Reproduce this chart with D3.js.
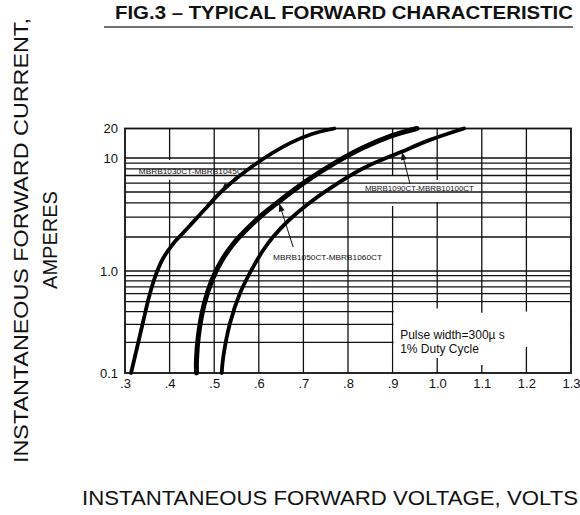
<!DOCTYPE html>
<html>
<head>
<meta charset="utf-8">
<script src="https://cdn.jsdelivr.net/npm/d3@7"></script>
<style>
  html, body { margin: 0; padding: 0; background: #fff; }
  svg { display: block; }
  text { font-family: "Liberation Sans", Arial, sans-serif; fill: #111; }
</style>
</head>
<body>
<svg id="chart" width="580" height="515"></svg>
<script>
// ---- data ----
const xTicks = [0.3, 0.4, 0.5, 0.6, 0.7, 0.8, 0.9, 1.0, 1.1, 1.2, 1.3];
const xTickLabels = [".3", ".4", ".5", ".6", ".7", ".8", ".9", "1.0", "1.1", "1.2", "1.3"];
const yTicks = [0.1, 1, 10, 20];
const yTickLabels = ["0.1", "1.0", "10", "20"];
const yMinor = [0.2, 0.3, 0.4, 0.5, 0.6, 0.7, 0.8, 0.9, 2, 3, 4, 5, 6, 7, 8, 9];

const voltsA = [0.3135, 0.3258, 0.3404, 0.3538, 0.365, 0.3751, 0.3852, 0.3975, 0.4121, 0.430, 0.4457, 0.4816, 0.5197, 0.596, 0.670, 0.7193, 0.7691];
const ampsA  = [0.1, 0.168, 0.316, 0.556, 0.816, 1.063, 1.29, 1.534, 1.824, 2.17, 2.53, 3.61, 5.21, 9.03, 14.2, 17.6, 20];
const voltsB = [0.4603, 0.4603, 0.4648, 0.4771, 0.4951, 0.5175, 0.5444, 0.5735, 0.6072, 0.6408, 0.7081, 0.7709, 0.8336, 0.8987, 0.9547];
const ampsB  = [0.1, 0.134, 0.236, 0.464, 0.816, 1.251, 1.769, 2.353, 3.13, 4.00, 6.30, 9.05, 12.7, 16.9, 20];
const voltsC = [0.5168, 0.5204, 0.5354, 0.5578, 0.5877, 0.6101, 0.6318, 0.6655, 0.7103, 0.7596, 0.8343, 0.9204, 0.9839, 1.060];
const ampsC  = [0.1, 0.1445, 0.307, 0.604, 1.092, 1.534, 2.0, 2.77, 3.92, 5.39, 8.11, 11.6, 15.3, 20];

const seriesNames = ["MBRB1030CT-MBRB1045CT", "MBRB1050CT-MBRB1060CT", "MBRB1090CT-MBRB10100CT"];
// annotation anchors in data units: [labelV, labelI, fromV, fromI, tipV, tipI]
const annotA = [0.331, 7.2, 0.551, 7.0, 0.516, 5.15];
const annotB = [0.632, 1.25, 0.677, 1.63, 0.646, 3.95];
const annotC = [0.838, 5.1, 0.939, 5.9, 0.921, 11.5];
const noteLines = ["Pulse width=300\u00b5 s", "1% Duty Cycle"];
const noteAnchor = [0.917, 0.215, 0.157];
// gaps in vertical grid lines [V, lowI, highI]
const vGaps = [[0.4, 6.4, 9.6], [0.9, 3.76, 7.07], [1.0, 4.08, 6.39]];
// blank region (pulse note box) and stubs [V, topEndI, bottomStartI]
const blankBox = [0.9, 1.3, 0.1, 0.5];
const stubs = [[1.0, 0.43, 0.14], [1.1, 0.39, 0.12], [1.2, 0.40, 0.18]];

// ---- scales ----
const svg = d3.select("#chart");
const x = d3.scaleLinear().domain([0.3, 1.3]).range([125, 571]);
const y = d3.scaleLog().domain([0.1, 1, 10, 20]).range([373, 271, 158, 128.5]);

const grid = svg.append("g").attr("stroke", "#111").attr("stroke-width", 1.3);
// vertical grid as segments (with gaps)
const vSegs = [];
xTicks.slice(1, -1).forEach(v => {
  const gaps = vGaps.filter(g => g[0] === v).sort((a, b) => a[1] - b[1]);
  let lo = 0.1;
  gaps.forEach(g => { vSegs.push([v, lo, g[1]]); lo = g[2]; });
  vSegs.push([v, lo, 20]);
});
grid.selectAll("line.v").data(vSegs).join("line").attr("class", "v")
  .attr("x1", d => x(d[0])).attr("x2", d => x(d[0]))
  .attr("y1", d => y(d[2])).attr("y2", d => y(d[1]));
// horizontal grid
grid.selectAll("line.h").data(yMinor.concat([1, 10])).join("line").attr("class", "h")
  .attr("x1", x(0.3)).attr("x2", x(1.3))
  .attr("y1", d => y(d)).attr("y2", d => y(d));

// blank area for pulse note
svg.append("rect")
  .attr("x", x(blankBox[0]) + 1).attr("width", x(blankBox[1]) - x(blankBox[0]) - 2)
  .attr("y", y(blankBox[3]) + 1).attr("height", y(blankBox[2]) - y(blankBox[3]) - 2)
  .attr("fill", "#fff");
const stubG = svg.append("g").attr("stroke", "#111").attr("stroke-width", 1.3);
stubs.forEach(s => {
  stubG.append("line").attr("x1", x(s[0])).attr("x2", x(s[0])).attr("y1", y(0.5)).attr("y2", y(s[1]));
  stubG.append("line").attr("x1", x(s[0])).attr("x2", x(s[0])).attr("y1", y(s[2])).attr("y2", y(0.1));
});

// frame
svg.append("rect")
  .attr("x", x(0.3)).attr("y", y(20))
  .attr("width", x(1.3) - x(0.3)).attr("height", y(0.1) - y(20))
  .attr("fill", "none").attr("stroke", "#111").attr("stroke-width", 1.8);

// axes labels via d3 axes
const xAxis = d3.axisBottom(x).tickValues(xTicks).tickSize(0).tickPadding(6)
  .tickFormat((d, i) => xTickLabels[i]);
svg.append("g").attr("transform", `translate(0,${y(0.1)})`).call(xAxis)
  .call(g => g.select(".domain").remove())
  .selectAll("text").style("font-size", "13px").style("font-family", "Liberation Sans, Arial, sans-serif").attr("fill", "#111");

const yAxis = d3.axisLeft(y).tickValues(yTicks).tickSize(0).tickPadding(7)
  .tickFormat(d => yTickLabels[yTicks.indexOf(d)]);
svg.append("g").attr("transform", `translate(${x(0.3)},0)`).call(yAxis)
  .call(g => g.select(".domain").remove())
  .selectAll("text").style("font-size", "13px").style("font-family", "Liberation Sans, Arial, sans-serif").attr("fill", "#111");

// curves
const line = d3.line().x(d => x(d[0])).y(d => y(d[1])).curve(d3.curveCatmullRom.alpha(0.5));
const curves = [
  { v: voltsA, a: ampsA, w: 3.8 },
  { v: voltsB, a: ampsB, w: 5 },
  { v: voltsC, a: ampsC, w: 3.8 }
];
svg.append("g").selectAll("path").data(curves).join("path")
  .attr("d", c => line(c.v.map((v, i) => [v, c.a[i]])))
  .attr("fill", "none").attr("stroke", "#000").attr("stroke-width", c => c.w)
  .attr("stroke-linecap", "round");

// annotations
const annots = [annotA, annotB, annotC];
const ag = svg.append("g");
annots.forEach((a, i) => {
  ag.append("text").attr("x", x(a[0])).attr("y", y(a[1]))
    .attr("font-size", 7.5).attr("textLength", 109).attr("lengthAdjust", "spacingAndGlyphs")
    .text(seriesNames[i]);
  const x1 = x(a[2]), y1 = y(a[3]), x2 = x(a[4]), y2 = y(a[5]);
  ag.append("line").attr("x1", x1).attr("y1", y1).attr("x2", x2).attr("y2", y2)
    .attr("stroke", "#111").attr("stroke-width", 1);
  const ang = Math.atan2(y2 - y1, x2 - x1);
  const L = 8, W = 3;
  const bx = x2 - L * Math.cos(ang), by = y2 - L * Math.sin(ang);
  const px = -Math.sin(ang) * W, py = Math.cos(ang) * W;
  ag.append("path").attr("d", `M${x2},${y2}L${bx + px},${by + py}L${bx - px},${by - py}Z`).attr("fill", "#111");
});

// pulse note
svg.append("g").selectAll("text").data(noteLines).join("text")
  .attr("x", x(noteAnchor[0])).attr("y", (d, i) => y(noteAnchor[i + 1]))
  .attr("font-size", 12).text(d => d);

// title
svg.append("text").attr("x", 115).attr("y", 18.5)
  .attr("font-size", 18.5).attr("font-weight", "bold")
  .attr("textLength", 458).attr("lengthAdjust", "spacingAndGlyphs")
  .text("FIG.3 \u2013 TYPICAL FORWARD CHARACTERISTIC");
svg.append("line").attr("x1", 104).attr("x2", 573).attr("y1", 27).attr("y2", 27)
  .attr("stroke", "#444").attr("stroke-width", 1.6);

// axis titles
svg.append("text").attr("transform", "translate(28,463) rotate(-90)")
  .attr("font-size", 20).attr("textLength", 445).attr("lengthAdjust", "spacingAndGlyphs")
  .text("INSTANTANEOUS FORWARD CURRENT,");
svg.append("text").attr("transform", "translate(57,240) rotate(-90)")
  .attr("font-size", 20).attr("text-anchor", "middle")
  .text("AMPERES");
svg.append("text").attr("x", 82).attr("y", 505)
  .attr("font-size", 20).attr("textLength", 496).attr("lengthAdjust", "spacingAndGlyphs")
  .text("INSTANTANEOUS FORWARD VOLTAGE,  VOLTS");
</script>
</body>
</html>
